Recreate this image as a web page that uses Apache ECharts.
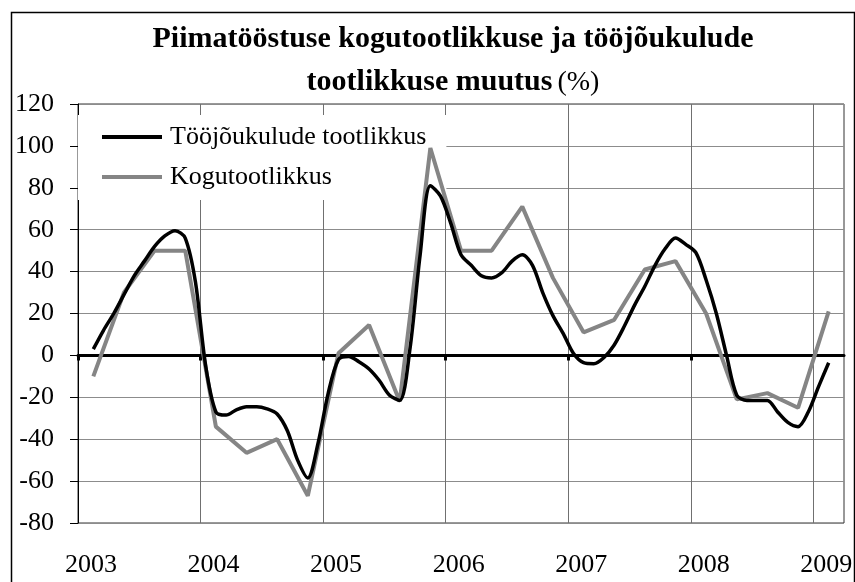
<!DOCTYPE html>
<html>
<head>
<meta charset="utf-8">
<script src="https://cdn.jsdelivr.net/npm/echarts@6/dist/echarts.min.js"></script>
<style>
  html, body { margin: 0; padding: 0; background: #fff; }
  #chart { width: 855px; height: 582px; }
</style>
</head>
<body>
<div id="chart"></div>
<script>
// aastad x-teljel
const years = [2003, 2004, 2005, 2006, 2007, 2008, 2009];
const yTicks = [-80, -60, -40, -20, 0, 20, 40, 60, 80, 100, 120];

// Tööjõukulude tootlikkus, kuised väärtused 2003-02 ... 2009-02
const laborStart = [2003, 2];
const laborProd = [
  3, 12, 20, 29, 38, 45, 52, 57, 59.5, 56, 35,          // 2003
  -5, -27, -28.5, -26, -24.5, -24.5, -25.5, -28, -36, -50, -58.5, -42,  // 2004
  -18, -2, -0.5, -3, -6.5, -12, -19, -21.5, 3, 48, 81, 76,              // 2005
  63, 48, 43, 38, 37, 39.5, 45, 48, 43, 30, 19, 10.5,                   // 2006
  1, -3.5, -4, -1, 5, 14, 24, 33, 43, 51, 56, 53,                        // 2007
  49, 36, 20, 0, -19, -21.5, -21.5, -21.5, -27, -32, -34, -27,          // 2008
  -15, -3.5                                                              // 2009
];

// Kogutootlikkus, kvartalite väärtused 2003 I ... 2009 I
const totalStart = [2003, 1];
const totalProd = [
  -10, 30, 50, 50,
  -34, -46.5, -40, -67,
  1, 14.5, -22, 99,
  50, 50, 71, 37,
  11, 17, 41, 45,
  20, -21, -18, -25,
  21
];

const seriesNames = ['Tööjõukulude tootlikkus', 'Kogutootlikkus'];

// kuu keskpaik aastana
const monthPos = (y, m) => y + (m - 0.5) / 12;
const laborData = laborProd.map((v, i) => {
  const m0 = laborStart[1] - 1 + i;
  return [monthPos(laborStart[0] + Math.floor(m0 / 12), (m0 % 12) + 1), v];
});
// kvartali keskmine kuu
const totalData = totalProd.map((v, i) => {
  const q0 = totalStart[1] - 1 + i;
  const y = totalStart[0] + Math.floor(q0 / 4);
  const q = (q0 % 4) + 1;
  return [monthPos(y, q * 3 - 1), v];
});

const serif = '"Liberation Serif", "Times New Roman", serif';

const chart = echarts.init(document.getElementById('chart'));
chart.setOption({
  animation: false,
  backgroundColor: '#fff',
  title: {
    left: 453,
    top: 18,
    textAlign: 'center',
    padding: 0,
    text: '{b|Piimatööstuse kogutootlikkuse ja tööjõukulude}\n{b|tootlikkuse muutus} {n|(%)}',
    textStyle: {
      rich: {
        b: { fontFamily: serif, fontSize: 30, fontWeight: 'bold', color: '#000', lineHeight: 43 },
        n: { fontFamily: serif, fontSize: 28, fontWeight: 'normal', color: '#000', lineHeight: 43 }
      }
    }
  },
  graphic: [{
    type: 'rect',
    left: 9,
    top: 10,
    z: -1,
    shape: { width: 843, height: 620 },
    style: { fill: 'none', stroke: '#000', lineWidth: 1.5 }
  }],
  grid: {
    left: 78,
    right: 11,
    top: 104,
    bottom: 59,
    outerBoundsMode: 'none',
    containLabel: false,
    show: true,
    borderColor: '#333',
    borderWidth: 1
  },
  legend: {
    orient: 'vertical',
    left: 78,
    top: 115,
    z: 1,
    padding: [9, 20, 10, 24],
    backgroundColor: '#fff',
    icon: 'rect',
    itemWidth: 60,
    itemHeight: 4,
    itemGap: 14,
    data: seriesNames,
    textStyle: { fontFamily: serif, fontSize: 26, color: '#000', padding: [0, 0, 0, 3] }
  },
  xAxis: {
    type: 'value',
    min: 2003,
    max: 2009.25,
    interval: 1,
    axisLine: { onZero: true, lineStyle: { color: '#000', width: 3 } },
    axisTick: {
      show: true,
      customValues: years,
      length: 5,
      lineStyle: { color: '#000', width: 3 }
    },
    axisLabel: {
      customValues: years,
      formatter: v => String(v),
      margin: 29,
      padding: [0, 0, 0, 26],
      fontFamily: serif,
      fontSize: 26,
      color: '#000'
    },
    splitLine: { show: true, lineStyle: { color: '#707070', width: 1 } }
  },
  yAxis: {
    type: 'value',
    min: yTicks[0],
    max: yTicks[yTicks.length - 1],
    interval: 20,
    axisLine: { show: true, onZero: false, lineStyle: { color: '#000', width: 1 } },
    axisTick: { show: true, length: 8, lineStyle: { color: '#000' } },
    axisLabel: { margin: 24, fontFamily: serif, fontSize: 26, color: '#000', hideOverlap: false },
    splitLine: { show: true, lineStyle: { color: '#8c8c8c', width: 1 } }
  },
  series: [
    {
      name: seriesNames[0],
      type: 'line',
      data: laborData,
      smooth: 0.3,
      showSymbol: false,
      symbol: 'none',
      z: 3,
      lineStyle: { color: '#000', width: 3.5 },
      itemStyle: { color: '#000' }
    },
    {
      name: seriesNames[1],
      type: 'line',
      data: totalData,
      showSymbol: false,
      symbol: 'none',
      z: 2,
      lineStyle: { color: '#858585', width: 4 },
      itemStyle: { color: '#858585' }
    }
  ]
});
</script>
</body>
</html>
